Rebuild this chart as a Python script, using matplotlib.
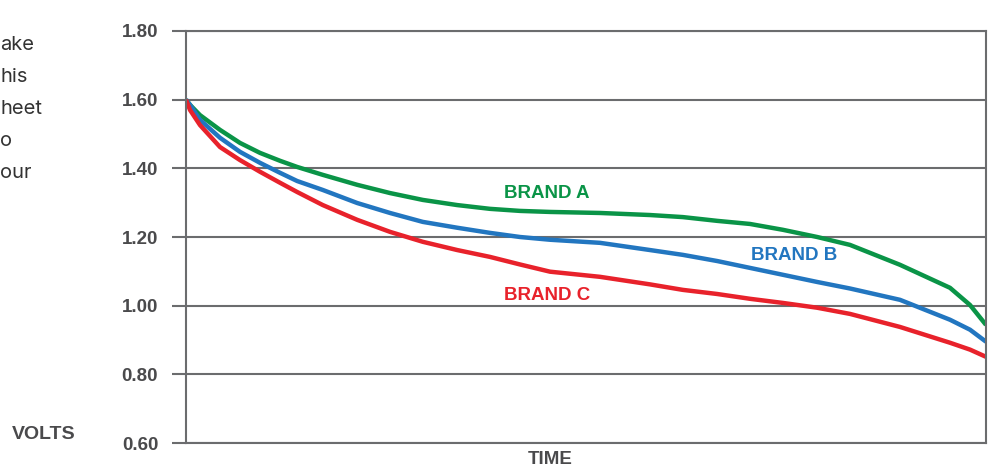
import matplotlib
matplotlib.use('Agg')
import matplotlib.pyplot as plt
import numpy as np

# discharge curves (time in % of run, volts)
time = [0, 0.5, 1.75, 4.25, 6.75, 9.25, 11.75, 13.9, 17.1, 21.4, 25.5, 29.6,
        33.9, 38, 41.75, 45.5, 51.75, 58, 62.1, 66.4, 70.5, 74.6, 78.9, 83,
        89.25, 95.5, 98, 100]
brand_a = [1.60, 1.585, 1.555, 1.512, 1.474, 1.445, 1.422, 1.404, 1.381, 1.352,
           1.328, 1.308, 1.293, 1.282, 1.276, 1.273, 1.27, 1.264, 1.258, 1.247,
           1.238, 1.221, 1.20, 1.177, 1.119, 1.052, 1.002, 0.944]
brand_b = [1.60, 1.585, 1.541, 1.489, 1.448, 1.416, 1.387, 1.363, 1.337, 1.299,
           1.27, 1.244, 1.227, 1.212, 1.20, 1.192, 1.183, 1.162, 1.148, 1.13,
           1.11, 1.09, 1.069, 1.05, 1.017, 0.959, 0.93, 0.895]
brand_c = [1.60, 1.570, 1.526, 1.462, 1.424, 1.39, 1.358, 1.331, 1.293, 1.25,
           1.215, 1.186, 1.162, 1.142, 1.12, 1.099, 1.084, 1.062, 1.046, 1.034,
           1.02, 1.008, 0.994, 0.976, 0.938, 0.892, 0.872, 0.851]
yticks = [0.60, 0.80, 1.00, 1.20, 1.40, 1.60, 1.80]
side_text = ['ake', 'his', 'heet', 'o', 'our']

GREEN = '#0a9447'
BLUE = '#2276c0'
RED = '#e8222b'
GREY = '#6b6c6e'
TXT = '#4a4a4c'
FAM = ['Liberation Sans', 'DejaVu Sans']
bold = dict(family=FAM, weight='bold', color=TXT)

fig = plt.figure(figsize=(9.89, 4.69), dpi=100)
ax = fig.add_axes([186/989, 26/469, 800/989, 412/469])

ax.plot(time, brand_a, color=GREEN, lw=3.2, solid_capstyle='butt', solid_joinstyle='round')
ax.plot(time, brand_b, color=BLUE, lw=3.2, solid_capstyle='butt', solid_joinstyle='round')
ax.plot(time, brand_c, color=RED, lw=3.2, solid_capstyle='butt', solid_joinstyle='round')

ax.set_xlim(0, 100)
ax.set_ylim(0.6, 1.8)
ax.set_xticks([])
ax.set_yticks(yticks)
ax.set_yticklabels(['%.2f' % v for v in yticks], fontsize=13.5, **bold)
ax.tick_params(axis='y', length=10, width=1.5, color=GREY, pad=10)
ax.grid(axis='y', color=GREY, lw=1.5)
ax.set_axisbelow(True)
for s in ax.spines.values():
    s.set_color(GREY)
    s.set_linewidth(1.5)

# labels on the curves
ax.text(45.1, 1.3255, 'BRAND A', ha='center', va='center', fontsize=13.5,
        family=FAM, weight='bold', color=GREEN)
ax.text(76.0, 1.145, 'BRAND B', ha='center', va='center', fontsize=13.5,
        family=FAM, weight='bold', color=BLUE)
ax.text(45.1, 1.03, 'BRAND C', ha='center', va='center', fontsize=13.5,
        family=FAM, weight='bold', color=RED)

fig.text(550/989, 1 - 459/469, 'TIME', ha='center', va='center', fontsize=13.5, **bold)
fig.text(12/989, 1 - 434/469, 'VOLTS', ha='left', va='center', fontsize=14, **bold)

# clipped body text on the left edge
for i, s in enumerate(side_text):
    fig.text(0, 1 - (45 + i * 32) / 469, s, ha='left', va='center', fontsize=14.5,
             family=['Inter', 'Roboto', 'DejaVu Sans'], color='#333333')

fig.savefig('out.png', dpi=100)
